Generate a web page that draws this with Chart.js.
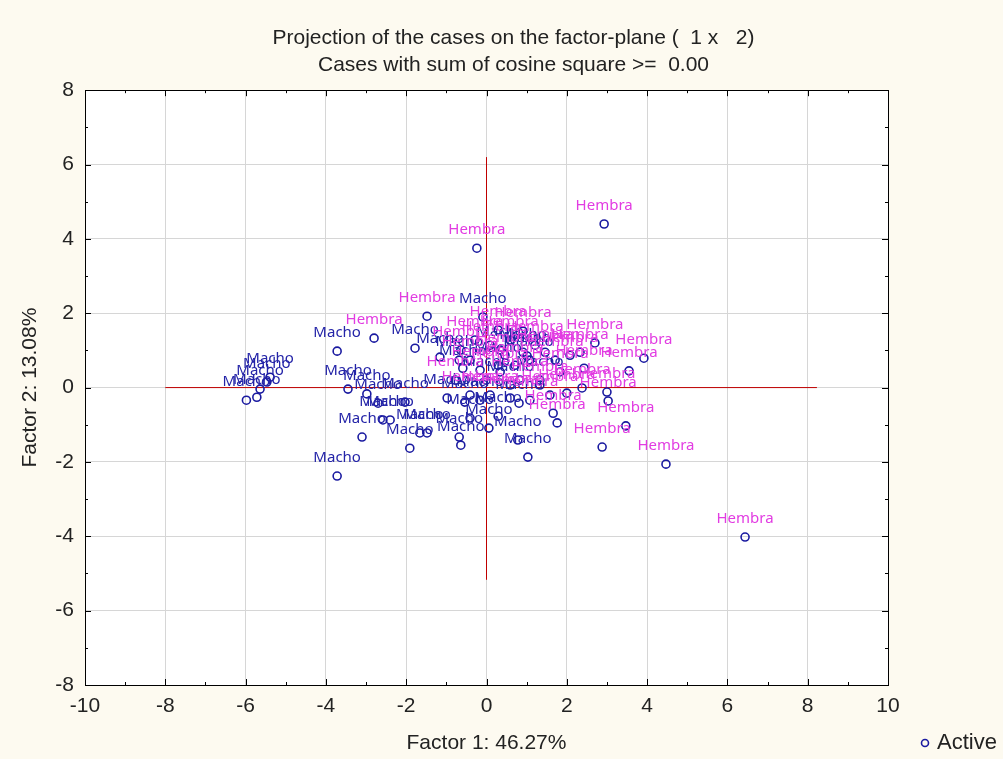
<!DOCTYPE html>
<html>
<head>
<meta charset="utf-8">
<script src="https://cdn.jsdelivr.net/npm/chart.js@4.4.0/dist/chart.umd.min.js"></script>
<style>
  html, body { margin: 0; padding: 0; background: #fdfaf0; }
</style>
</head>
<body>
<canvas id="factorPlane" width="1003" height="759"></canvas>
<script>
// factor coordinates of the cases
var machoF1 = [-5.98, -5.72, -5.64, -5.47, -5.39, -3.72, -3.45, -2.98, -3.72, -3.10,
               -2.58, -2.40, -1.78, -1.91, -1.66, -1.48, -0.68, -0.64, -0.54, 0.06,
               0.29, 0.81, 1.03, -2.03, -0.09, -0.98, 0.78, -2.70, -1.16, -0.68,
               -0.59, 0.91, 1.01, 0.34, 0.29, 0.59, -0.16, 1.08, -0.01, 1.33, -0.41];
var machoF2 = [-0.34, -0.26, -0.04, 0.15, 0.28, 0.98, -0.04, -0.17, -2.38, -1.33,
               -0.87, -0.87, 1.06, -1.63, -1.22, -1.22, -1.33, -1.55, -0.39, -1.09,
               -0.77, -0.42, -1.87, -0.39, 1.90, -0.28, -1.41, -0.42, 0.82, 0.74,
               0.52, 0.95, 0.85, 1.01, 0.60, 0.07, -0.34, 0.74, 0.20, 0.20, -0.82];

var hembraF1 = [2.93, -0.24, 6.44, 4.47, 2.88, 3.47, 3.92, 3.55, 3.00, 3.03,
                -2.80, -1.48, 2.70, 2.43, 2.38, 2.00, 1.66, 1.76, 0.91, -0.64,
                -0.41, -0.78, 0.29, 0.59, 1.21, 1.46, 1.71, 2.08, 2.33, 1.33,
                0.83, 0.34, -0.16, -0.41, 0.09, 0.59, 1.08, 1.58, 0.46, 0.09,
                -0.29, 0.71, 1.83];
var hembraF2 = [4.40, 3.75, -4.02, -2.06, -1.60, -1.03, 0.79, 0.45, -0.12, -0.36,
                1.33, 1.92, 1.20, 0.52, -0.01, -0.15, -0.69, -0.95, 1.52, 1.01,
                0.74, 0.20, 1.55, 1.28, 1.14, 0.95, 0.74, 0.87, 0.95, 0.07,
                0.20, 0.42, 0.47, -0.20, -0.20, -0.28, -0.34, -0.20, 0.87, 1.14,
                1.28, 0.60, 0.42];

// red cross lines (extent of the cases)
var crossX = [-8.0, 8.23];
var crossY = [-5.17, 6.2];

var xTicks = [-10, -8, -6, -4, -2, 0, 2, 4, 6, 8, 10];
var yTicks = [-8, -6, -4, -2, 0, 2, 4, 6, 8];

var titleLines = ['Projection of the cases on the factor-plane (  1 x   2)',
                  'Cases with sum of cosine square >=  0.00'];

var sans = "'Liberation Sans', Arial, sans-serif";

function toPoints(xs, ys) {
  return xs.map(function (v, i) { return { x: v, y: ys[i] }; });
}

var pointStyle = {
  pointRadius: 4,
  pointHoverRadius: 4,
  pointBorderWidth: 1.6,
  pointBorderColor: '#1a1aa0',
  pointBackgroundColor: 'rgba(0,0,0,0)',
  showLine: false,
  order: 1
};

var framePlugin = {
  id: 'frame',
  beforeDraw: function (chart) {
    var a = chart.chartArea, ctx = chart.ctx;
    ctx.save();
    ctx.fillStyle = '#ffffff';
    ctx.fillRect(a.left, a.top, a.right - a.left, a.bottom - a.top);
    ctx.restore();
  },
  afterDatasetsDraw: function (chart) {
    var ctx = chart.ctx;
    ctx.save();
    ctx.font = "15px 'Noto Sans', sans-serif";
    ctx.textAlign = 'center';
    ctx.textBaseline = 'middle';
    chart.data.datasets.forEach(function (ds, i) {
      if (!ds.caseLabel) return;
      ctx.fillStyle = ds.labelColor;
      chart.getDatasetMeta(i).data.forEach(function (pt) {
        ctx.fillText(ds.caseLabel, pt.x, pt.y - 18);
      });
    });
    ctx.restore();
  },
  afterDraw: function (chart) {
    var a = chart.chartArea, ctx = chart.ctx;
    var xs = chart.scales.x, ys = chart.scales.y;
    ctx.save();
    ctx.strokeStyle = '#000';
    ctx.lineWidth = 1;
    ctx.strokeRect(Math.round(a.left) + 0.5, Math.round(a.top) + 0.5,
                   Math.round(a.right - a.left), Math.round(a.bottom - a.top));
    // inner tick marks, major every 2, minor every 1
    ctx.beginPath();
    for (var v = -10; v <= 10; v++) {
      var px = Math.round(xs.getPixelForValue(v)) + 0.5;
      var len = (v % 2 === 0) ? 6 : 3;
      ctx.moveTo(px, a.bottom); ctx.lineTo(px, a.bottom - len);
      ctx.moveTo(px, a.top); ctx.lineTo(px, a.top + len);
    }
    for (var w = -8; w <= 8; w++) {
      var py = Math.round(ys.getPixelForValue(w)) + 0.5;
      var l2 = (w % 2 === 0) ? 6 : 3;
      ctx.moveTo(a.left, py); ctx.lineTo(a.left + l2, py);
      ctx.moveTo(a.right, py); ctx.lineTo(a.right - l2, py);
    }
    ctx.stroke();
    // legend
    ctx.beginPath();
    ctx.strokeStyle = '#1a1aa0';
    ctx.lineWidth = 1.6;
    ctx.arc(925, 743, 3.5, 0, Math.PI * 2);
    ctx.stroke();
    ctx.fillStyle = '#222';
    ctx.font = '22px ' + sans;
    ctx.textAlign = 'left';
    ctx.textBaseline = 'middle';
    ctx.fillText('Active', 937, 743);
    ctx.restore();
  }
};

var ctx = document.getElementById('factorPlane').getContext('2d');

var chart = new Chart(ctx, {
  type: 'scatter',
  data: {
    datasets: [
      Object.assign({ label: 'Macho', caseLabel: 'Macho', labelColor: '#2424a8',
                      data: toPoints(machoF1, machoF2) }, pointStyle),
      Object.assign({ label: 'Hembra', caseLabel: 'Hembra', labelColor: '#e23ce2',
                      data: toPoints(hembraF1, hembraF2) }, pointStyle),
      { label: 'h', data: toPoints(crossX, [0, 0]), showLine: true, pointRadius: 0,
        borderColor: '#c00000', borderWidth: 1, order: 2 },
      { label: 'v', data: toPoints([0, 0], crossY), showLine: true, pointRadius: 0,
        borderColor: '#c00000', borderWidth: 1, order: 2 }
    ]
  },
  options: {
    responsive: false,
    animation: false,
    events: [],
    layout: { padding: { left: 24, right: 0, top: 0, bottom: 0 } },
    plugins: {
      legend: { display: false },
      tooltip: { enabled: false },
      title: {
        display: true,
        text: titleLines,
        color: '#222',
        font: { family: sans, size: 21, weight: 'normal', lineHeight: 1.29 },
        padding: { top: 25, bottom: 11 }
      }
    },
    scales: {
      x: {
        type: 'linear', min: -10, max: 10,
        afterBuildTicks: function (s) { s.ticks = xTicks.map(function (v) { return { value: v }; }); },
        afterFit: function (s) { s.height = 74; },
        grid: { color: '#d6d6d6', drawTicks: false },
        border: { display: false },
        ticks: { color: '#222', padding: 9, font: { family: sans, size: 21 } },
        title: { display: true, text: 'Factor 1: 46.27%', color: '#222',
                 font: { family: sans, size: 21 }, padding: { top: 0, bottom: 3 } }
      },
      y: {
        type: 'linear', min: -8, max: 8,
        afterBuildTicks: function (s) { s.ticks = yTicks.map(function (v) { return { value: v }; }); },
        afterFit: function (s) { s.width = 61; },
        grid: { color: '#d6d6d6', drawTicks: false },
        border: { display: false },
        ticks: { color: '#222', padding: 11, font: { family: sans, size: 21 } },
        title: { display: true, text: 'Factor 2: 13.08%', color: '#222',
                 font: { family: sans, size: 21, lineHeight: 0.6 }, padding: { top: 0, bottom: 0 } }
      },
      yRight: {
        type: 'linear', position: 'right', min: 0, max: 1,
        afterFit: function (s) { s.width = 115; },
        grid: { display: false },
        border: { display: false },
        ticks: { display: false }
      }
    }
  },
  plugins: [framePlugin]
});
</script>
</body>
</html>
